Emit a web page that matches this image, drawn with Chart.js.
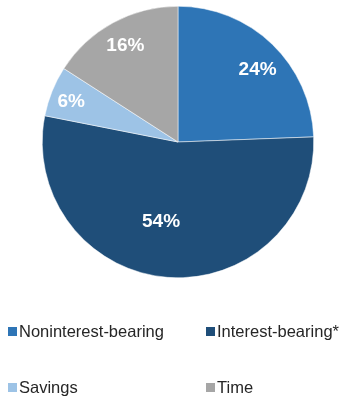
<!DOCTYPE html>
<html>
<head>
<meta charset="utf-8">
<script src="https://cdn.jsdelivr.net/npm/chart.js@4.4.1/dist/chart.umd.min.js"></script>
<style>
  body { margin: 0; background: #fff; }
  #wrap { position: relative; width: 340px; height: 399px; }
  #legend { position: absolute; left: 0; top: 0; width: 340px; height: 399px; pointer-events: none; }
  .item { position: absolute; font: 16.5px "Liberation Sans", Arial, sans-serif; color: #262626; white-space: nowrap; line-height: 20px; }
  .item i { position: absolute; width: 9px; height: 9px; top: 6px; }
  .item span { position: absolute; left: 11.5px; top: 0; }
</style>
</head>
<body>
<div id="wrap">
  <canvas id="pie" width="340" height="399"></canvas>
  <div id="legend"></div>
</div>
<script>
// Deposit mix
const categories = ['Noninterest-bearing', 'Interest-bearing*', 'Savings', 'Time'];
const shares = [24.4, 53.7, 6.0, 15.9];
const colors = ['#2e75b6', '#1f4e79', '#9dc3e6', '#a6a6a6'];

// label placement: fraction of radius + small angle nudge (deg)
const labelRadius = [0.79, 0.60, 0.84, 0.81];
const labelNudge = [4, 7.5, -1.5, 0];

const pctLabels = {
    id: 'pctLabels',
    afterDatasetsDraw(chart) {
        const ctx = chart.ctx;
        const meta = chart.getDatasetMeta(0);
        ctx.save();
        ctx.fillStyle = '#fff';
        ctx.font = 'bold 19px "Liberation Sans", Arial, sans-serif';
        ctx.textAlign = 'center';
        ctx.textBaseline = 'middle';
        meta.data.forEach((arc, i) => {
            const p = arc.getProps(['x', 'y', 'startAngle', 'endAngle', 'outerRadius'], true);
            const a = (p.startAngle + p.endAngle) / 2 + labelNudge[i] * Math.PI / 180;
            const r = p.outerRadius * labelRadius[i];
            ctx.fillText(Math.round(shares[i]) + '%', p.x + Math.cos(a) * r, p.y + Math.sin(a) * r);
        });
        ctx.restore();
    }
};

new Chart(document.getElementById('pie'), {
    type: 'pie',
    data: {
        labels: categories,
        datasets: [{
            data: shares,
            backgroundColor: colors,
            borderColor: '#fff',
            borderWidth: 0.5
        }]
    },
    options: {
        responsive: false,
        animation: false,
        layout: { padding: { left: 42, right: 26, top: 6, bottom: 121 } },
        plugins: { legend: { display: false }, tooltip: { enabled: false } }
    },
    plugins: [pctLabels]
});

// legend, two columns
const legendPos = [[7.5, 321], [205.5, 321], [7.5, 377], [205.5, 377]];
const legend = document.getElementById('legend');
categories.forEach((c, i) => {
    const d = document.createElement('div');
    d.className = 'item';
    d.style.left = legendPos[i][0] + 'px';
    d.style.top = legendPos[i][1] + 'px';
    d.innerHTML = '<i style="background:' + colors[i] + '"></i><span>' + c + '</span>';
    legend.appendChild(d);
});
</script>
</body>
</html>
